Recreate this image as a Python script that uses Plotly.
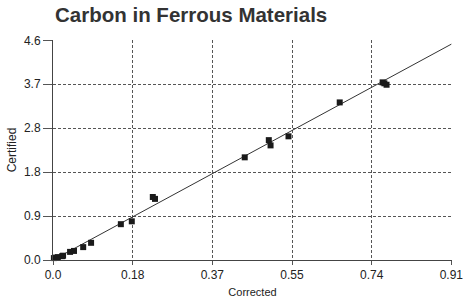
import plotly.graph_objects as go

# Data
corrected = [0.002, 0.007, 0.011, 0.021, 0.023, 0.039, 0.048, 0.069, 0.087,
             0.155, 0.180, 0.228, 0.233, 0.438, 0.493, 0.497, 0.538, 0.655,
             0.753, 0.757, 0.762]
certified = [0.04, 0.05, 0.06, 0.08, 0.09, 0.17, 0.19, 0.27, 0.36,
             0.75, 0.81, 1.32, 1.28, 2.15, 2.51, 2.40, 2.59, 3.30,
             3.72, 3.70, 3.67]
fit_x = [0.0, 0.91]
fit_y = [0.0, 4.52]

x_tickvals = [0.0, 0.182, 0.364, 0.546, 0.728, 0.91]
x_ticktext = ["0.0", "0.18", "0.37", "0.55", "0.74", "0.91"]
y_tickvals = [0.0, 0.92, 1.84, 2.76, 3.68, 4.6]
y_ticktext = ["0.0", "0.9", "1.8", "2.8", "3.7", "4.6"]

fig = go.Figure()
fig.add_trace(go.Scatter(x=fit_x, y=fit_y, mode="lines",
                         line=dict(color="#333333", width=1), hoverinfo="skip"))
fig.add_trace(go.Scatter(x=corrected, y=certified, mode="markers",
                         marker=dict(symbol="square", size=6, color="#1a1a1a"),
                         cliponaxis=False))

font = "Liberation Sans, Arial, sans-serif"
fig.update_layout(
    width=463, height=303,
    margin=dict(l=53, r=11, t=40, b=43, autoexpand=False),
    paper_bgcolor="white", plot_bgcolor="white",
    showlegend=False,
    title=dict(text="<b>Carbon in Ferrous Materials</b>", x=55 / 463, xref="container",
               xanchor="left", y=1 - 14.5 / 303, yref="container", yanchor="middle",
               font=dict(family=font, size=20.5, color="#333333")),
    font=dict(family=font, size=11, color="#222222"),
)
fig.update_xaxes(range=[0, 0.9115], tickvals=x_tickvals, ticktext=x_ticktext,
                 showgrid=True, gridcolor="#555555", griddash="3px,2px", gridwidth=1,
                 showline=True, linecolor="#444444", linewidth=1,
                 ticks="outside", ticklen=4, tickcolor="#555555",
                 zeroline=False, automargin=False, ticklabeloverflow="allow",
                 title=dict(text="Corrected", font=dict(size=11), standoff=6),
                 tickfont=dict(size=12, color="#222222"))
fig.update_yaxes(range=[0, 4.607], tickvals=y_tickvals, ticktext=y_ticktext,
                 showgrid=True, gridcolor="#555555", griddash="3px,2px", gridwidth=1,
                 showline=True, linecolor="#444444", linewidth=1,
                 ticks="outside", ticklen=9, tickcolor="#555555",
                 zeroline=False, automargin=False, ticklabeloverflow="allow",
                 title=dict(text="Certified", font=dict(size=12), standoff=4),
                 tickfont=dict(size=12, color="#222222"))

fig.write_html("out.html", config={"displayModeBar": False},
               post_script="document.body.style.margin='0';document.body.style.overflow='hidden';")
